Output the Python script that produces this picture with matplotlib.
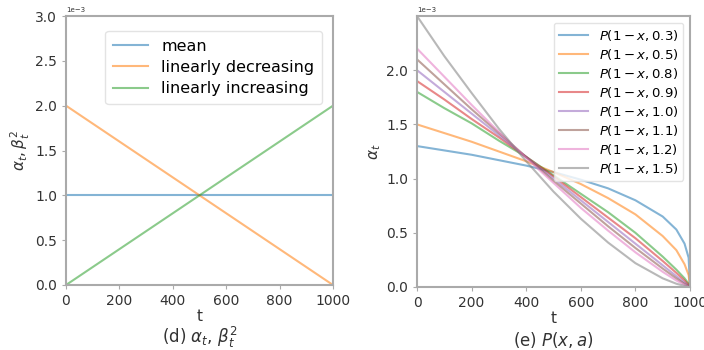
import numpy as np
import matplotlib.pyplot as plt

# left panel: schedules of alpha_t (units of 1e-3)
t_lin = [0, 1000]
mean_vals = [1.0, 1.0]
dec_vals = [2.0, 0.0]
inc_vals = [0.0, 2.0]

# right panel: P(1-x, a) curves (units of 1e-3)
t_pts = [0, 100, 200, 300, 400, 500, 600, 700, 800, 900, 950, 980, 995, 1000]
p03 = [1.30, 1.26, 1.22, 1.17, 1.12, 1.06, 0.99, 0.91, 0.80, 0.65, 0.53, 0.40, 0.27, 0.0]
p05 = [1.50, 1.42, 1.34, 1.25, 1.16, 1.06, 0.95, 0.82, 0.67, 0.47, 0.34, 0.21, 0.11, 0.0]
p08 = [1.80, 1.65, 1.51, 1.35, 1.20, 1.03, 0.86, 0.69, 0.50, 0.28, 0.16, 0.08, 0.03, 0.0]
p09 = [1.90, 1.73, 1.55, 1.38, 1.20, 1.02, 0.83, 0.64, 0.45, 0.24, 0.13, 0.06, 0.02, 0.0]
p10 = [2.00, 1.80, 1.60, 1.40, 1.20, 1.00, 0.80, 0.60, 0.40, 0.20, 0.10, 0.04, 0.01, 0.0]
p11 = [2.10, 1.87, 1.64, 1.42, 1.20, 0.98, 0.77, 0.56, 0.36, 0.17, 0.08, 0.03, 0.01, 0.0]
p12 = [2.20, 1.94, 1.68, 1.43, 1.19, 0.96, 0.73, 0.52, 0.32, 0.14, 0.06, 0.02, 0.00, 0.0]
p15 = [2.50, 2.13, 1.79, 1.46, 1.16, 0.88, 0.63, 0.41, 0.22, 0.08, 0.03, 0.01, 0.00, 0.0]
a_labels = ['0.3', '0.5', '0.8', '0.9', '1.0', '1.1', '1.2', '1.5']
curves = [p03, p05, p08, p09, p10, p11, p12, p15]

scale = 1e-3
grey = '#aaaaaa'
txt = '#333333'

fig = plt.figure(figsize=(7.04, 3.5), dpi=100)
ax1 = fig.add_axes([66/704, 65/350, 267/704, 269/350])
ax2 = fig.add_axes([417/704, 63/350, 273/704, 271/350])

colors = plt.get_cmap('tab10').colors

ax1.plot(t_lin, np.array(mean_vals)*scale, color=colors[0], alpha=0.55, lw=1.5, label='mean')
ax1.plot(t_lin, np.array(dec_vals)*scale, color=colors[1], alpha=0.55, lw=1.5, label='linearly decreasing')
ax1.plot(t_lin, np.array(inc_vals)*scale, color=colors[2], alpha=0.55, lw=1.5, label='linearly increasing')
ax1.set_xlim(0, 1000)
ax1.set_ylim(0, 3e-3)
ax1.set_xticks([0, 200, 400, 600, 800, 1000])
ax1.set_ylabel(r'$\alpha_t, \beta_t^2$', fontsize=11, color=txt, labelpad=2)
ax1.set_xlabel('t', fontsize=11, color=txt, labelpad=1)
ax1.legend(loc='upper right', fontsize=11.5, handlelength=2.2, borderpad=0.5,
           labelspacing=0.4, framealpha=0.8, edgecolor='#dddddd',
           bbox_to_anchor=(0.99, 0.975))
ax1.text(0.5, -0.195, r'(d) $\alpha_t$, $\beta_t^2$', transform=ax1.transAxes,
         ha='center', va='center', fontsize=12, color=txt)

for lab, vals, c in zip(a_labels, curves, colors):
    ax2.plot(t_pts, np.array(vals)*scale, color=c, alpha=0.55, lw=1.5,
             label=r'$P(1-x, %s)$' % lab)
ax2.set_xlim(0, 1000)
ax2.set_ylim(0, 2.5e-3)
ax2.set_xticks([0, 200, 400, 600, 800, 1000])
ax2.set_yticks([0, 0.5e-3, 1.0e-3, 1.5e-3, 2.0e-3])
ax2.set_ylabel(r'$\alpha_t$', fontsize=11, color=txt, labelpad=2)
ax2.set_xlabel('t', fontsize=11, color=txt, labelpad=1)
ax2.legend(loc='upper right', fontsize=9.5, handlelength=2.2, borderpad=0.4,
           labelspacing=0.3, framealpha=0.8, edgecolor='#dddddd')
ax2.text(0.5, -0.195, r'(e) $P(x, a)$', transform=ax2.transAxes,
         ha='center', va='center', fontsize=12, color=txt)

for ax in (ax1, ax2):
    ax.ticklabel_format(axis='y', style='sci', scilimits=(-3, -3))
    for s in ax.spines.values():
        s.set_color(grey)
        s.set_linewidth(1.5)
    ax.tick_params(colors=txt, labelsize=10, color=grey, length=3)
    ax.yaxis.get_offset_text().set_fontsize(5)
    ax.yaxis.get_offset_text().set_color(txt)

fig.savefig('out.png', dpi=100)
